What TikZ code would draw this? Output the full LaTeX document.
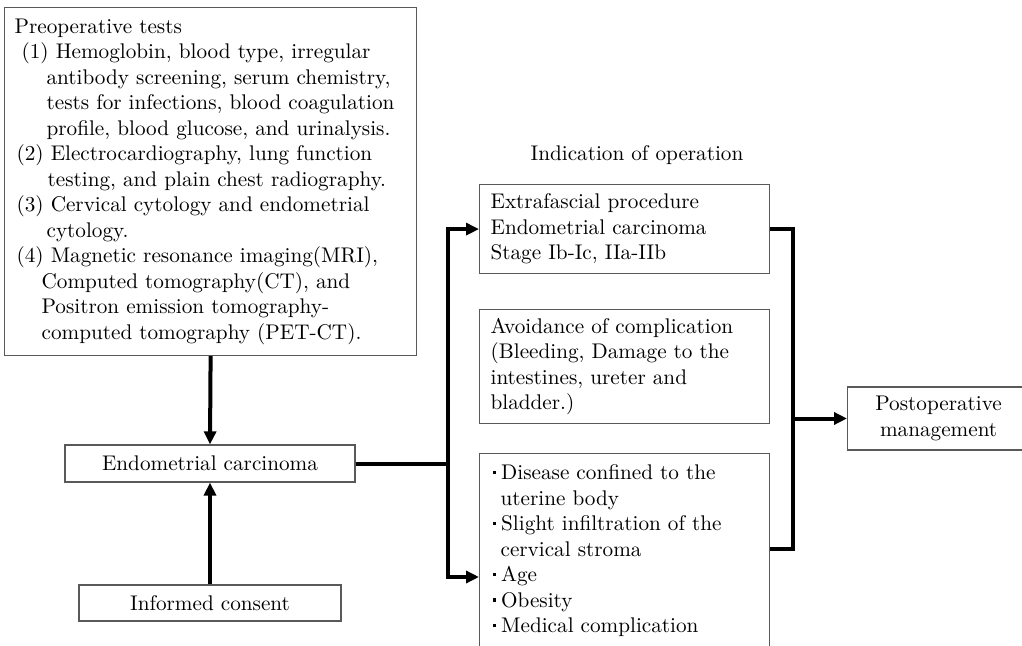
\documentclass[tikz,border=0pt]{standalone}
\usetikzlibrary{arrows.meta}

\tikzset{
  boxtext/.style={font=\fontsize{10.6}{12.75}\selectfont},
  plainbox/.style={boxtext, draw=black!65, line width=0.6pt, inner sep=0pt},
  flowline/.style={line width=2pt},
  flowarrow/.style={flowline, -{Triangle[length=6.5pt,width=6pt]}},
}
\newcommand{\sqdot}{\rule[0.6ex]{1.7pt}{1.7pt}\hspace{2.6pt}}

\begin{document}
\begin{tikzpicture}[x=0.5pt, y=-0.5pt]
  \useasboundingbox (0,0) rectangle (1022,646);

  % Left column
  \node[plainbox, anchor=north west, text width=196pt, inner xsep=5pt,
        minimum height=174pt, align=left] (tests) at (4,7)
    {Preoperative tests\\
     \hspace*{3.5pt}(1) Hemoglobin, blood type, irregular\\
     \hspace*{16pt}antibody screening, serum chemistry,\\
     \hspace*{16pt}tests for infections, blood coagulation\\
     \hspace*{16pt}profile, blood glucose, and urinalysis.\\
     \hspace*{1pt}(2) Electrocardiography, lung function\\
     \hspace*{16.5pt}testing, and plain chest radiography.\\
     \hspace*{1pt}(3) Cervical cytology and endometrial\\
     \hspace*{16pt}cytology.\\
     \hspace*{1pt}(4) Magnetic resonance imaging(MRI),\\
     \hspace*{13.5pt}Computed tomography(CT), and\\
     \hspace*{13.5pt}Positron emission tomography-\\
     \hspace*{13.5pt}computed tomography (PET-CT).};

  \node[plainbox, minimum width=145pt, minimum height=18.5pt] (ec) at (210,463.5)
    {Endometrial carcinoma};
  \node[plainbox, minimum width=131pt, minimum height=18pt] (consent) at (210,603)
    {Informed consent};

  % Indication of operation
  \node[boxtext] (indic) at (637,155) {Indication of operation};

  \node[plainbox, anchor=north west, text width=134pt, inner xsep=5.5pt,
        minimum height=44.5pt, align=left] (extra) at (479,184)
    {Extrafascial procedure\\
     Endometrial carcinoma\\
     Stage Ib-Ic, IIa-IIb};
  \node[plainbox, anchor=north west, text width=134pt, inner xsep=5.5pt,
        minimum height=57pt, align=left] (avoid) at (479,309)
    {Avoidance of complication\\
     (Bleeding, Damage to the\\
     intestines, ureter and\\
     bladder.)};
  \node[plainbox, anchor=north west, text width=132pt, inner xsep=6.5pt,
        inner ysep=5.5pt, align=left] (crit) at (479,453)
    {\sqdot Disease confined to the\\
     \hspace*{4pt}uterine body\\
     \sqdot Slight infiltration of the\\
     \hspace*{4pt}cervical stroma\\
     \sqdot Age\\
     \sqdot Obesity\\
     \sqdot Medical complication\rule[-14pt]{0pt}{1pt}};

  \node[plainbox, anchor=west, minimum width=91pt, minimum height=31.5pt,
        align=center] (post) at (847,418.5) {Postoperative\\management};

  \coordinate (split) at (448,463.5);
  \coordinate (join) at (793,418.5);

  % Connectors
  \draw[flowarrow] (tests.south) -- (ec.north);
  \draw[flowarrow] (consent.north) -- (ec.south);
  \draw[flowline] (ec.east) -- (split);
  \draw[flowarrow] (split) |- (extra.west);
  \draw[flowarrow] (split) |- ([yshift=-62pt]crit.north west);
  \draw[flowline] (extra.east) -| (join) |- ([yshift=-48pt]crit.north east);
  \draw[flowarrow] (join) -- (post.west);
\end{tikzpicture}
\end{document}
